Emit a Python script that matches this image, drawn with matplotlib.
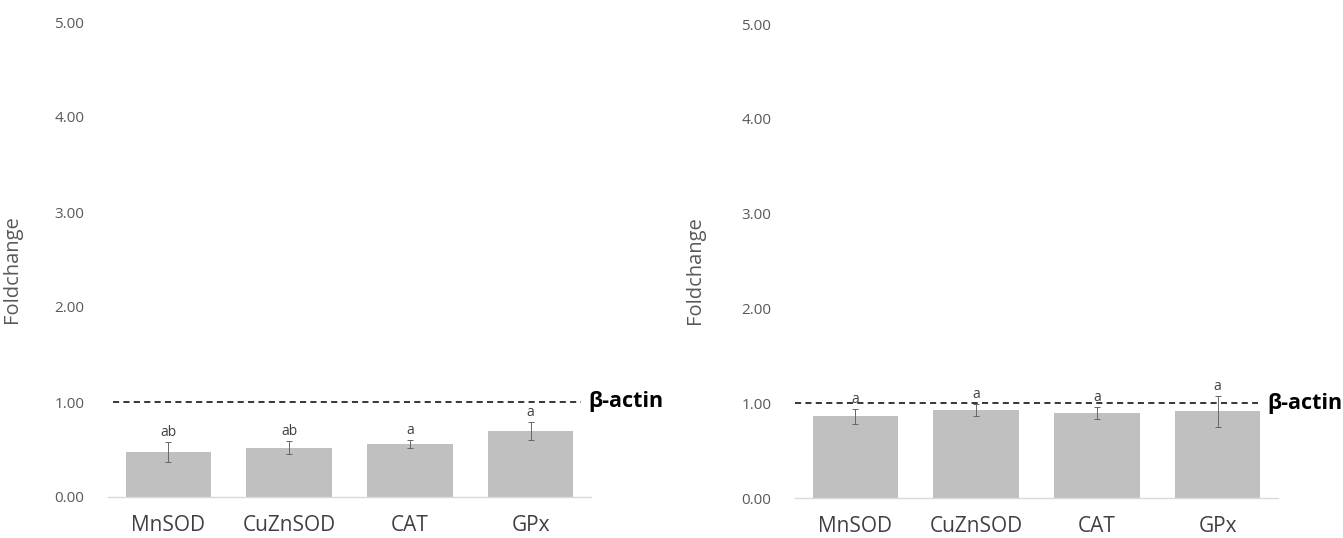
import numpy as np
import matplotlib.pyplot as plt
from matplotlib import transforms

plt.rcParams['font.family'] = ['Open Sans', 'DejaVu Sans']

# data
genes = ['MnSOD', 'CuZnSOD', 'CAT', 'GPx']
left_values = [0.474, 0.519, 0.558, 0.691]
left_errors = [0.105, 0.068, 0.043, 0.096]
left_letters = ['ab', 'ab', 'a', 'a']
right_values = [0.861, 0.930, 0.896, 0.913]
right_errors = [0.080, 0.065, 0.065, 0.165]
right_letters = ['a', 'a', 'a', 'a']
yticks = [0, 1, 2, 3, 4, 5]
reference_level = 1.0
reference_label = 'β-actin'

bar_color = '#c0c0c0'
text_gray = '#595959'

fig = plt.figure(figsize=(13.43, 5.38), dpi=100)

panels = [
    # axes rect, values, errors, letters, dashed span, label x, ylabel x
    ([108/1343, 41/538, 483/1343, 475/538], left_values, left_errors, left_letters, (0.01, 0.98), 0.994, -0.178),
    ([795/1343, 40/538, 483/1343, 474/538], right_values, right_errors, right_letters, (0.0, 0.959), 0.979, -0.186),
]

for rect, vals, errs, letters, span, lab_x, ylab_x in panels:
    ax = fig.add_axes(rect)
    x = np.arange(len(genes))
    ax.bar(x, vals, width=0.71, color=bar_color, zorder=2)
    ax.errorbar(x, vals, yerr=errs, fmt='none', ecolor='#666666', elinewidth=0.7,
                capsize=2.5, capthick=0.7, zorder=3)
    for xi, v, e, t in zip(x, vals, errs, letters):
        ax.text(xi, v + e + 0.02, t, ha='center', va='bottom', fontsize=10, color='#404040', zorder=4)

    ax.axhline(reference_level, xmin=span[0], xmax=span[1], color='black', lw=1.1,
               linestyle=(0, (4, 2.8)), zorder=1)
    trans = transforms.blended_transform_factory(ax.transAxes, ax.transData)
    ax.text(lab_x, reference_level, reference_label, transform=trans, ha='left', va='center',
            fontsize=15.5, fontweight='bold', color='black', clip_on=False)

    ax.set_xlim(-0.5, len(genes) - 0.5)
    ax.set_ylim(0, 5)
    ax.set_yticks(yticks)
    ax.set_yticklabels([f'{t:.2f}' for t in yticks])
    ax.set_xticks(x)
    ax.set_xticklabels(genes)
    ax.tick_params(axis='y', length=0, pad=17, labelsize=11, labelcolor=text_gray)
    ax.tick_params(axis='x', length=0, pad=13, labelsize=15, labelcolor='#404040')
    for s in ['top', 'right', 'left']:
        ax.spines[s].set_visible(False)
    ax.spines['bottom'].set_color('#d9d9d9')
    ax.spines['bottom'].set_linewidth(1.0)

    ax.set_ylabel('Foldchange', fontsize=14.5, color=text_gray)
    ax.yaxis.set_label_coords(ylab_x, 0.48)

fig.savefig('out.png', dpi=100)
